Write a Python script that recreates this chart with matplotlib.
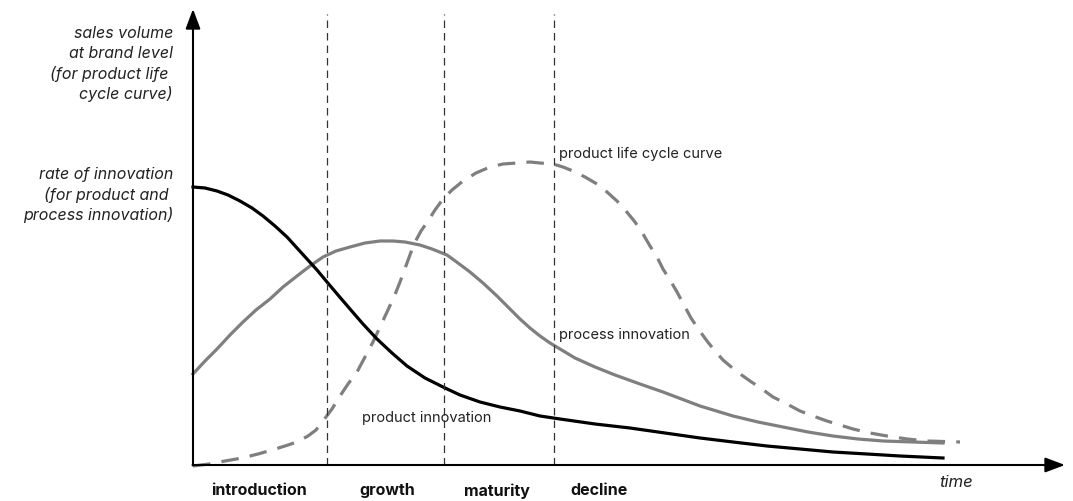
import matplotlib
matplotlib.use("Agg")
import matplotlib.pyplot as plt

plt.rcParams['font.family'] = ['Inter', 'DejaVu Sans']

# time positions and levels (units: px from origin)
plc_x = [0, 16, 32, 49, 65, 79, 92, 104, 115, 123, 130, 139, 147, 155, 164, 172, 180, 187, 194, 201,
         207, 214, 221, 228, 235, 242, 250, 259, 270, 283, 297, 310, 324, 337, 347, 360, 370, 380, 392, 404,
         414, 424, 433, 442, 450, 457, 464, 470, 477, 484, 491, 498, 506, 514, 522, 530, 543, 557, 569, 580,
         594, 607, 620, 634, 647, 660, 677, 694, 714, 734, 767]
plc_y = [-1, 1, 4, 7, 11, 15, 19, 23, 29, 35, 44, 56, 69, 81, 93, 108, 123, 138, 153, 168,
         183, 202, 221, 234, 244, 255, 266, 275, 284, 292, 298, 301, 302, 303, 302, 301, 298, 294, 288, 281,
         273, 264, 254, 243, 231, 219, 208, 196, 185, 173, 160, 147, 135, 124, 114, 105, 94, 84, 76, 68,
         61, 54, 49, 44, 40, 36, 32, 29, 26, 24, 23]

proc_x = [0, 12, 24, 37, 50, 63, 77, 90, 104, 117, 130, 143, 157, 172, 187, 200, 212, 227, 239, 254,
          265, 277, 290, 304, 315, 327, 337, 347, 357, 367, 382, 402, 422, 447, 470, 507, 540, 565, 590, 615,
          640, 665, 690, 720, 750]
proc_y = [91, 104, 116, 130, 143, 155, 166, 178, 189, 199, 208, 214, 218, 222, 224, 224, 223, 220, 216, 210,
          202, 193, 182, 169, 158, 146, 137, 129, 122, 116, 107, 98, 90, 81, 73, 59, 49, 43, 38, 33,
          29, 26, 24, 23, 22]

prod_x = [0, 12, 24, 35, 47, 59, 70, 82, 94, 104, 114, 124, 134, 145, 157, 170, 184, 199, 214, 232,
          250, 267, 287, 307, 327, 347, 367, 402, 437, 472, 507, 540, 574, 607, 640, 674, 707, 750]
prod_y = [278, 277, 274, 270, 264, 257, 249, 239, 228, 217, 206, 195, 183, 170, 156, 141, 126, 112, 99, 87,
          78, 70, 63, 58, 54, 49, 46, 41, 37, 32, 27, 23, 19, 16, 13, 11, 9, 7]

phase_bounds = [134, 251, 361]
phase_names = ["introduction", "growth", "maturity", "decline"]
phase_centers = [66, 194, 304, 406]

ylabel_top = ["sales volume", "at brand level", "(for product life ", "cycle curve)"]
ylabel_bottom = ["rate of innovation", "(for product and ", "process innovation)"]

fig = plt.figure(figsize=(10.73, 5.02), dpi=100)
ax = fig.add_axes([0, 0, 1, 1])
ax.set_xlim(-193, 880)
ax.set_ylim(-36, 466)
ax.axis('off')

gray = '#7f7f7f'
ax.plot(plc_x, plc_y, color=gray, lw=2.3, ls=(0, (5.5, 3.5)), solid_capstyle='butt')
ax.plot(proc_x, proc_y, color=gray, lw=2.3, solid_joinstyle='round')
ax.plot(prod_x, prod_y, color='black', lw=2.3, solid_joinstyle='round')

for b in phase_bounds:
    ax.plot([b, b], [0, 451], color='#333333', lw=0.9, ls=(0, (6, 4)))

# axes with arrows
ax.annotate('', xy=(0, 456), xytext=(0, -0.5),
            arrowprops=dict(arrowstyle='-|>,head_length=1.2,head_width=0.45', color='black', lw=1.5, shrinkA=0, shrinkB=0))
ax.annotate('', xy=(872, 0), xytext=(-0.5, 0),
            arrowprops=dict(arrowstyle='-|>,head_length=1.2,head_width=0.45', color='black', lw=1.5, shrinkA=0, shrinkB=0))

ax.text(366, 312, "product life cycle curve", fontsize=10.5, ha='left', va='center', color='#222222')
ax.text(366, 131, "process innovation", fontsize=10.5, ha='left', va='center', color='#222222')
ax.text(169, 48, "product innovation", fontsize=10.5, ha='left', va='center', color='#222222')

for name, c in zip(phase_names, phase_centers):
    ax.text(c, -25, name, fontsize=11.5, fontweight='bold', ha='center', va='center', color='#111111')

ax.text(763, -17, "time", fontsize=12, style='italic', ha='center', va='center', color='#222222')

for i, s in enumerate(ylabel_top):
    ax.text(-20, 433 - i * 20.3, s, fontsize=11.5, style='italic', ha='right', va='center', color='#222222')
for i, s in enumerate(ylabel_bottom):
    ax.text(-20, 291 - i * 20, s, fontsize=11.5, style='italic', ha='right', va='center', color='#222222')

fig.savefig('out.png', dpi=100)
